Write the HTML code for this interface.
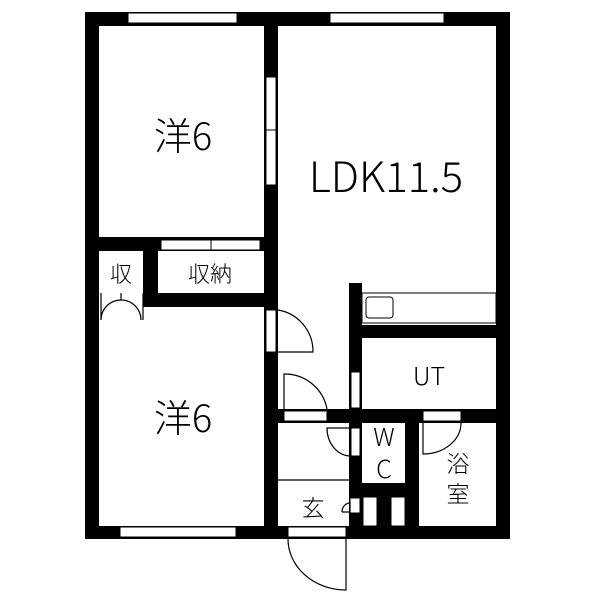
<!DOCTYPE html>
<html><head><meta charset="utf-8"><style>html,body{margin:0;padding:0;background:#fff}svg{display:block}</style></head>
<body>
<svg width="600" height="600" viewBox="0 0 600 600" xmlns="http://www.w3.org/2000/svg" font-family="Liberation Sans, Noto Sans CJK JP, sans-serif">
<rect width="600" height="600" fill="#fff"/>
<g fill="#000">
<rect x="85" y="12" width="425" height="14"/>
<rect x="85" y="12" width="14" height="527"/>
<rect x="496" y="12" width="14" height="527"/>
<rect x="85" y="526" width="425" height="13"/>
<rect x="264" y="12" width="14" height="527"/>
<rect x="99" y="237" width="165" height="14"/>
<rect x="143" y="237" width="15" height="70"/>
<rect x="143" y="293" width="121" height="14"/>
<rect x="349" y="283" width="13" height="256"/>
<rect x="349" y="325" width="147" height="13"/>
<rect x="278" y="409" width="218" height="14"/>
<rect x="405" y="409" width="14" height="117"/>
<rect x="349" y="483" width="70" height="14"/>
<rect x="362" y="483" width="57" height="43"/>
</g>
<g fill="#fff" stroke="#000" stroke-width="1">
<rect x="128" y="13" width="109" height="10"/>
<rect x="330" y="13" width="114" height="10"/>
<rect x="120" y="527" width="116" height="10"/>
<rect x="266" y="77" width="10" height="53"/>
<rect x="266" y="130" width="10" height="55"/>
<rect x="161" y="240" width="50" height="10"/>
<rect x="211" y="240" width="49" height="10"/>
<rect x="266" y="310" width="10" height="42"/>
<rect x="351" y="372" width="9" height="36"/>
<rect x="284" y="411" width="43" height="10"/>
<rect x="351" y="428" width="9" height="28"/>
<rect x="423" y="411" width="38" height="10"/>
<rect x="363" y="497" width="14" height="29"/>
<rect x="391" y="497" width="14" height="29"/>
<rect x="350" y="498" width="10" height="15"/>
<rect x="288" y="527" width="58" height="10"/>
<rect x="362" y="293" width="134" height="30"/>
<rect x="366" y="297" width="27" height="21" rx="3"/>
</g>
<g fill="none" stroke="#000" stroke-width="1.2">
<path d="M278 310 A42 42 0 0 1 313 352 L278 352"/>
<path d="M284 409 L284 374 A43 43 0 0 1 327 409"/>
<path d="M349 428 L327 428 A24 28 0 0 0 349 456"/>
<path d="M423 423 L423 454 A38 31 0 0 0 461 423"/>
<path d="M342 512 L350 512 L350 503 A8 9 0 0 0 342 512"/>
<path d="M288 539 A58 51 0 0 0 346 590 L346 539"/>
<path d="M278 480 L349 480"/>
<path d="M101 293 L101 320 M143 293 L143 320 M101 320 A20 20 0 0 1 121 300 A20 20 0 0 1 141 320 M121 293 L121 300"/>
</g>
<g fill="#000" text-anchor="middle" font-family="Noto Sans CJK JP, Liberation Sans, sans-serif" font-weight="300">
<text x="183" y="150" font-size="38">洋6</text>
<text x="183" y="432" font-size="38">洋6</text>
<text x="386" y="192" font-size="42">LDK11.5</text>
<text x="121" y="282" font-size="22">収</text>
<text x="210" y="282" font-size="22">収納</text>
<text x="429" y="385" font-size="25">UT</text>
<text x="384" y="446" font-size="25">W</text>
<text x="384" y="478" font-size="25">C</text>
<text x="458" y="472" font-size="23">浴</text>
<text x="458" y="502" font-size="23">室</text>
<text x="313" y="516" font-size="23">玄</text>
</g>
</svg>
</body></html>
